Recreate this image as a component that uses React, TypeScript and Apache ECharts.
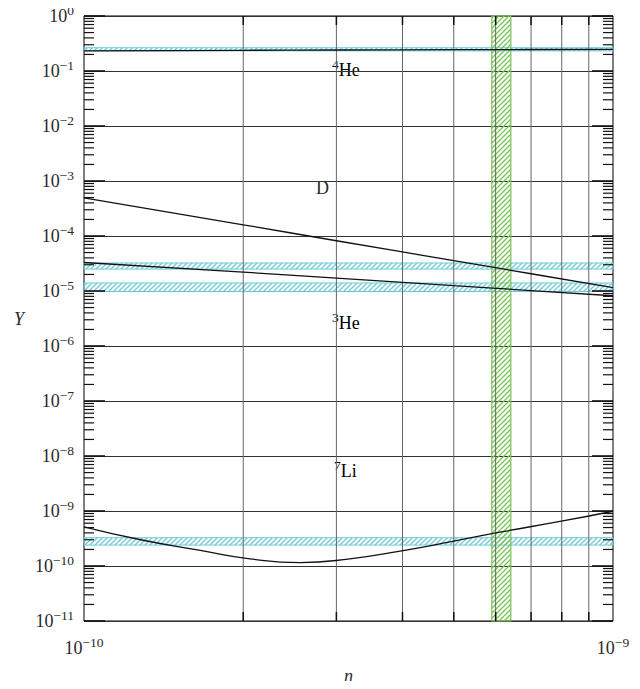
import React, { useEffect, useRef } from "react";
import * as echarts from "echarts";

// ---- data ----
const ETA = [1e-10, 2e-10, 3e-10, 5e-10, 7e-10, 1e-9];
const HE4 = [0.232, 0.238, 0.241, 0.244, 0.246, 0.248];
const D = [4.95e-4, 1.6e-4, 8.2e-5, 3.56e-5, 2.06e-5, 1.15e-5];
const HE3 = [3.3e-5, 2.2e-5, 1.72e-5, 1.25e-5, 1.02e-5, 8.2e-6];
const ETA_LI = [1e-10, 1.28e-10, 1.66e-10, 2.06e-10, 2.56e-10, 3.18e-10, 3.96e-10, 4.92e-10, 6.11e-10, 7.94e-10, 1e-9];
const LI = [5.17e-10, 3.0e-10, 1.92e-10, 1.35e-10, 1.15e-10, 1.35e-10, 1.87e-10, 2.74e-10, 4.12e-10, 6.45e-10, 9.9e-10];

// observational bands [low, high]
const BAND_HE4 = [0.232, 0.265];
const BAND_D = [2.5e-5, 3.23e-5];
const BAND_HE3 = [9.8e-6, 1.4e-5];
const BAND_LI = [2.4e-10, 3.27e-10];
const BAND_ETA = [5.9e-10, 6.41e-10];
const DASH_HE3 = 1.06e-5;
const DASH_ETA = 6.02e-10;

// axis ranges / tick values
const X_MIN = 1e-10;
const X_MAX = 1e-9;
const Y_MIN = 1e-11;
const Y_MAX = 1;
const X_GRID = [2, 3, 4, 5, 6, 7, 8, 9].map((m) => m * 1e-10);
const Y_DECADES = [-11, -10, -9, -8, -7, -6, -5, -4, -3, -2, -1, 0];
const Y_MINOR: number[] = [];
Y_DECADES.slice(0, -1).forEach((k) => {
  [2, 3, 4, 5, 6, 7, 8, 9].forEach((m) => Y_MINOR.push(m * Math.pow(10, k)));
});

const CYAN = "#6fcbdc";
const GREEN = "#79c257";
const SERIF = "Liberation Serif";
const TXT = "#2a2a2a";

function hatch(color: string) {
  const s = 5;
  const c = document.createElement("canvas");
  c.width = s;
  c.height = s;
  const g = c.getContext("2d")!;
  g.strokeStyle = color;
  g.lineWidth = 1.3;
  g.beginPath();
  g.moveTo(0, s);
  g.lineTo(s, 0);
  g.moveTo(-1, 1);
  g.lineTo(1, -1);
  g.moveTo(s - 1, s + 1);
  g.lineTo(s + 1, s - 1);
  g.stroke();
  return { image: c, repeat: "repeat" };
}

const expLabel = (v: number) => {
  const e = Math.round(Math.log10(v));
  const s = e < 0 ? "\u2212" + Math.abs(e) : String(e);
  return `{b|10}{s|${s}}`;
};

const richStyle = {
  b: { fontFamily: SERIF, fontSize: 18, color: TXT, verticalAlign: "bottom", lineHeight: 18 },
  s: { fontFamily: SERIF, fontSize: 13.5, color: TXT, verticalAlign: "bottom", lineHeight: 13, padding: [0, 0, 8, 0] },
};

export default function App() {
  const ref = useRef<HTMLDivElement>(null);
  useEffect(() => {
    const chart = echarts.init(ref.current!, undefined, { renderer: "svg" });
    const cyanFill = hatch(CYAN);
    const greenFill = hatch(GREEN);

    const hBand = (b: number[]) => [
      { yAxis: b[0], xAxis: X_MIN },
      { yAxis: b[1], xAxis: X_MAX },
    ];

    const option: any = {
      animation: false,
      grid: { left: 84, right: 27, top: 16, bottom: 68, show: true, borderColor: "#000", borderWidth: 1, backgroundColor: "transparent" },
      xAxis: {
        type: "log",
        logBase: 10,
        min: X_MIN,
        max: X_MAX,
        interval: 1,
        axisLine: { show: false },
        axisTick: { show: false },
        splitLine: { show: false },
        axisLabel: { formatter: expLabel, rich: richStyle, margin: 18 },
      },
      yAxis: {
        type: "log",
        logBase: 10,
        min: Y_MIN,
        max: Y_MAX,
        interval: 1,
        axisLine: { show: false },
        axisTick: { show: false },
        splitLine: { show: true, lineStyle: { color: "#333", width: 1 } },
        axisLabel: { formatter: expLabel, rich: richStyle, margin: 10 },
      },
      series: [
        {
          type: "custom",
          name: "xgrid",
          silent: true,
          z: 1,
          data: X_GRID.map((v) => [v, Y_MIN]),
          renderItem: (params: any, api: any) => {
            const cs = params.coordSys;
            const x = api.coord([api.value(0), Y_MIN])[0];
            return {
              type: "group",
              children: [
                { type: "line", shape: { x1: x, y1: cs.y, x2: x, y2: cs.y + cs.height }, style: { stroke: "#666", lineWidth: 1 } },
                { type: "line", shape: { x1: x, y1: cs.y, x2: x, y2: cs.y + 9 }, style: { stroke: "#111", lineWidth: 1.5 } },
                { type: "line", shape: { x1: x, y1: cs.y + cs.height - 9, x2: x, y2: cs.y + cs.height }, style: { stroke: "#111", lineWidth: 1.5 } },
              ],
            };
          },
        },
        {
          type: "custom",
          name: "yticks",
          silent: true,
          z: 5,
          data: [...Y_MINOR.map((v) => [X_MIN, v, 0]), ...Y_DECADES.map((k) => [X_MIN, Math.pow(10, k), 1])],
          renderItem: (params: any, api: any) => {
            const cs = params.coordSys;
            const y = api.coord([X_MIN, api.value(1)])[1];
            const major = api.value(2) === 1;
            const len = major ? 21 : 10;
            const w = major ? 1.6 : 1.2;
            return {
              type: "group",
              children: [
                { type: "line", shape: { x1: cs.x, y1: y, x2: cs.x + len, y2: y }, style: { stroke: "#111", lineWidth: w } },
                { type: "line", shape: { x1: cs.x + cs.width - len, y1: y, x2: cs.x + cs.width, y2: y }, style: { stroke: "#111", lineWidth: w } },
              ],
            };
          },
        },
        {
          type: "line",
          name: "bands",
          data: [],
          z: 2,
          markArea: {
            silent: true,
            itemStyle: { color: cyanFill, borderColor: CYAN, borderWidth: 1 },
            data: [
              hBand(BAND_HE4),
              hBand(BAND_D),
              hBand(BAND_HE3),
              hBand(BAND_LI),
              [
                { xAxis: BAND_ETA[0], yAxis: Y_MIN, itemStyle: { color: greenFill, borderColor: GREEN, borderWidth: 1.2 } },
                { xAxis: BAND_ETA[1], yAxis: Y_MAX },
              ],
            ],
          },
          markLine: {
            silent: true,
            symbol: "none",
            label: { show: false },
            lineStyle: { color: "#111", type: [4, 2], width: 1 },
            data: [{ yAxis: DASH_HE3 }, { xAxis: DASH_ETA }],
          },
        },
        {
          type: "line",
          name: "He4",
          data: ETA.map((x, i) => [x, HE4[i]]),
          showSymbol: false,
          smooth: true,
          z: 4,
          lineStyle: { color: "#111", width: 1.3 },
        },
        {
          type: "line",
          name: "D",
          data: ETA.map((x, i) => [x, D[i]]),
          showSymbol: false,
          smooth: true,
          z: 4,
          lineStyle: { color: "#111", width: 1.3 },
        },
        {
          type: "line",
          name: "He3",
          data: ETA.map((x, i) => [x, HE3[i]]),
          showSymbol: false,
          smooth: true,
          z: 4,
          lineStyle: { color: "#111", width: 1.3 },
        },
        {
          type: "line",
          name: "Li7",
          data: ETA_LI.map((x, i) => [x, LI[i]]),
          showSymbol: false,
          smooth: true,
          z: 4,
          lineStyle: { color: "#111", width: 1.3 },
        },
      ],
      graphic: [
        { type: "text", left: 332, top: 57, style: { text: "{s|4}{b|He}", rich: richStyle } },
        { type: "text", left: 316, top: 179, style: { text: "D", fontFamily: SERIF, fontSize: 18, fill: TXT } },
        { type: "text", left: 332, top: 310, style: { text: "{s|3}{b|He}", rich: richStyle } },
        { type: "text", left: 334, top: 458, style: { text: "{s|7}{b|Li}", rich: richStyle } },
        { type: "text", left: 14, top: 310, style: { text: "Y", fontFamily: SERIF, fontSize: 18, fontStyle: "italic", fill: TXT } },
        { type: "text", left: 344, top: 667, style: { text: "\u03b7", fontFamily: SERIF, fontSize: 18, fontStyle: "italic", fill: TXT } },
      ],
    };
    chart.setOption(option);
    return () => chart.dispose();
  }, []);
  return <div ref={ref} style={{ width: 640, height: 689, margin: -8 }} />;
}
